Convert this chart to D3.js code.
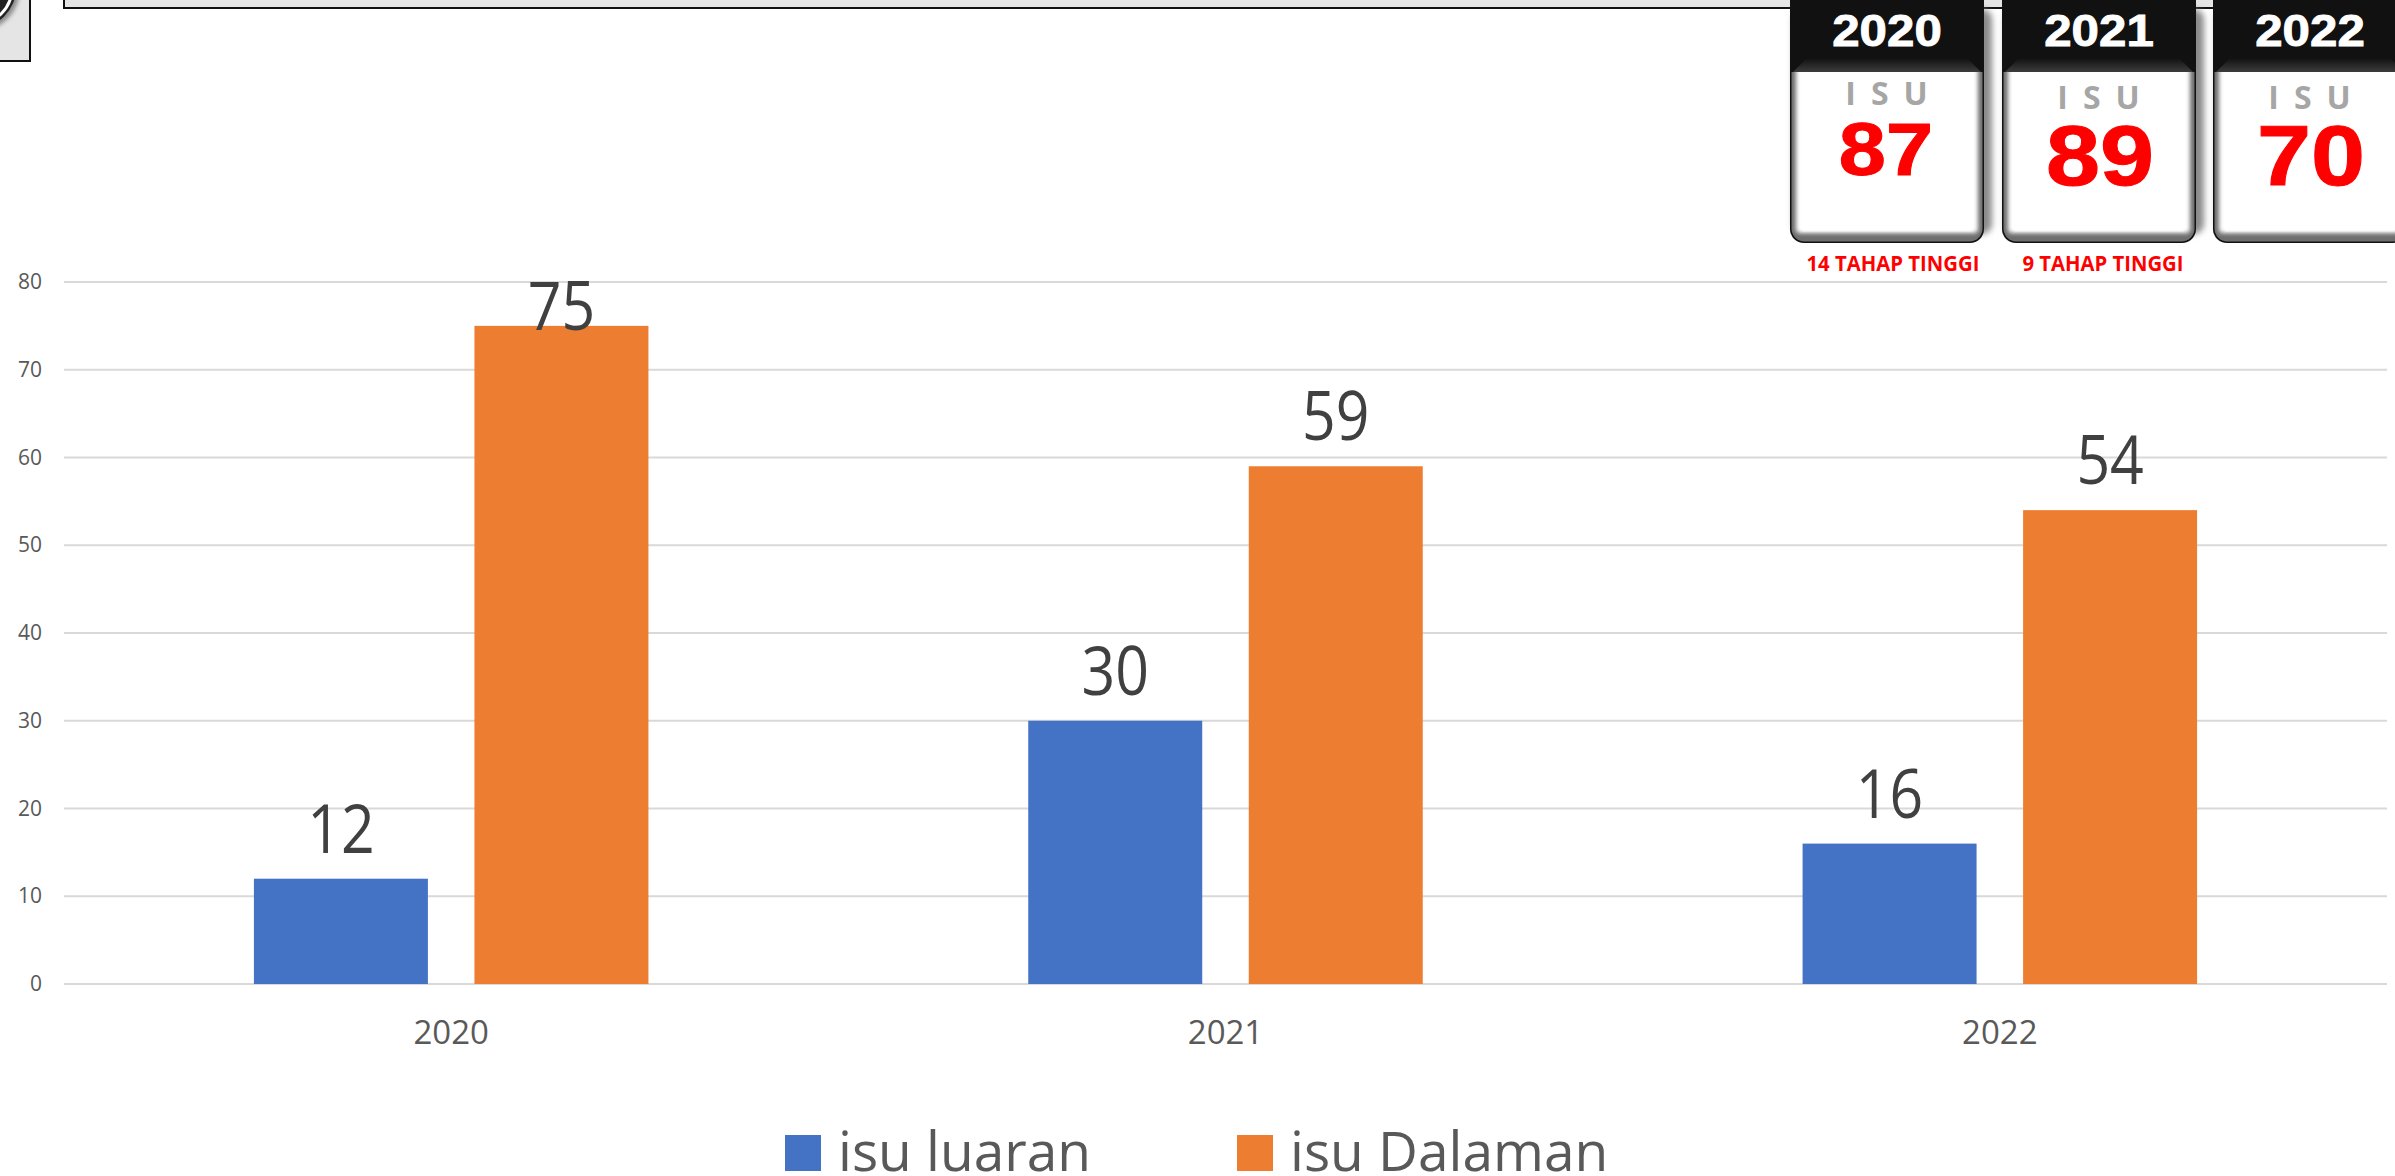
<!DOCTYPE html>
<html><head><meta charset="utf-8">
<script src="https://cdn.jsdelivr.net/npm/d3@7"></script>
<style>
html,body{margin:0;padding:0;background:#fff;overflow:hidden}
svg{display:block}
</style></head><body>
<svg id="c" width="2395" height="1176" font-family="'Open Sans',sans-serif"></svg>
<script>
const categories = ["2020","2021","2022"];
const seriesNames = ["isu luaran","isu Dalaman"];
const isuLuaran = [12,30,16];
const isuDalaman = [75,59,54];
const yTicks = [0,10,20,30,40,50,60,70,80];
const calendarYears = ["2020","2021","2022"];
const calendarTotals = [87,89,70];
const calendarNotes = ["14 TAHAP TINGGI","9 TAHAP TINGGI",""];
const colors = ["#4472C4","#ED7D31"];

const svg = d3.select("#c");
const x0 = d3.scaleBand().domain(categories).range([64,2387]);
const groupW = 394.5;
const x1 = d3.scaleBand().domain(seriesNames).range([0,groupW]).paddingInner(0.211);
const y = d3.scaleLinear().domain([0,80]).range([984,282]);
const seriesVals = [isuLuaran,isuDalaman];

const defs = svg.append("defs");
[["b1",1.2],["b2",2],["b3",3]].forEach(f=>{
  defs.append("filter").attr("id",f[0]).attr("x","-20%").attr("y","-20%").attr("width","140%").attr("height","140%")
    .append("feGaussianBlur").attr("stdDeviation",f[1]);
});
const cw=194, ch=263;
defs.append("clipPath").attr("id","card").append("rect").attr("x",1.5).attr("y",-20).attr("width",cw-3).attr("height",ch-1.5).attr("rx",13);
const hdr = defs.append("linearGradient").attr("id","chamfer").attr("x1",0).attr("x2",0).attr("y1",0).attr("y2",1);
[[0,"#141414"],[1,"#3c3c3c"]].forEach(s=>hdr.append("stop").attr("offset",s[0]).attr("stop-color",s[1]));

// top remnants
svg.append("rect").attr("x",64).attr("y",-20).attr("width",2400).attr("height",28).attr("fill","#e5e5e5").attr("stroke","#111").attr("stroke-width",2);
svg.append("rect").attr("x",-20).attr("y",-20).attr("width",50).attr("height",81).attr("fill","#e5e5e5").attr("stroke","#111").attr("stroke-width",2);
svg.append("circle").attr("cx",-24).attr("cy",-12).attr("r",44).attr("fill","#8a8a8a").attr("filter","url(#b2)");
svg.append("circle").attr("cx",-24).attr("cy",-12).attr("r",40).attr("fill","#222");
svg.append("circle").attr("cx",-24).attr("cy",-12).attr("r",36).attr("fill","none").attr("stroke","#fff").attr("stroke-width",3);

// grid
svg.append("g").selectAll("line").data(yTicks).join("line")
  .attr("x1",64).attr("x2",2387).attr("y1",d=>y(d)).attr("y2",d=>y(d))
  .attr("stroke","#d9d9d9").attr("stroke-width",2);

// axes
const yAxis = d3.axisLeft(y).tickValues(yTicks).tickSize(0).tickPadding(0);
const gy = svg.append("g").attr("transform","translate(42,0)").call(yAxis);
gy.select(".domain").remove();
gy.selectAll("text").attr("font-size",21).attr("fill","#595959").attr("font-family","'Open Sans'");
const xAxis = d3.axisBottom(x0).tickSize(0).tickPadding(0);
const gx = svg.append("g").attr("transform","translate(0,1021)").call(xAxis);
gx.select(".domain").remove();
gx.selectAll("text").attr("font-size",33).attr("fill","#595959").attr("font-family","'Open Sans'").attr("dy","0.71em").attr("y",0);

// bars
const groups = svg.append("g").selectAll("g").data(categories).join("g")
  .attr("transform",c=>`translate(${x0(c)+x0.bandwidth()/2-groupW/2},0)`);
const labelFloor = y(80)+48;
seriesNames.forEach((s,si)=>{
  groups.append("rect").attr("x",x1(s)).attr("width",x1.bandwidth())
    .attr("y",(c,i)=>y(seriesVals[si][i]))
    .attr("height",(c,i)=>y(0)-y(seriesVals[si][i]))
    .attr("fill",colors[si]);
});
seriesNames.forEach((s,si)=>{
  groups.append("text")
    .attr("transform",(c,i)=>`translate(${x1(s)+x1.bandwidth()/2},${Math.max(y(seriesVals[si][i])-26,labelFloor)}) scale(0.88,1)`)
    .attr("text-anchor","middle").attr("font-size",67).attr("fill","#404040")
    .text((c,i)=>seriesVals[si][i]);
});

// legend
const legendX = [785,1237];
const lg = svg.append("g").selectAll("g").data(seriesNames).join("g");
lg.append("rect").attr("x",(d,i)=>legendX[i]).attr("y",1135).attr("width",36).attr("height",36).attr("fill",(d,i)=>colors[i]);
lg.append("text").attr("x",(d,i)=>legendX[i]+53).attr("y",1171).attr("font-size",55).attr("fill","#595959").text(d=>d);

// calendars
const cal = svg.append("g").selectAll("g").data(calendarYears).join("g")
  .attr("transform",(d,i)=>`translate(${[1790,2002,2213][i]},0)`);
cal.append("rect").attr("x",3).attr("y",9).attr("width",cw+5).attr("height",ch-38).attr("rx",10).attr("fill","#8a8a8a").attr("filter","url(#b3)");
cal.append("rect").attr("x",0).attr("y",-20).attr("width",cw).attr("height",ch).attr("rx",14).attr("fill","#111");
const inner = cal.append("g").attr("clip-path","url(#card)");
inner.append("rect").attr("x",0).attr("y",60).attr("width",cw).attr("height",182).attr("fill","#6e6e6e");
inner.append("rect").attr("x",6).attr("y",62).attr("width",cw-12).attr("height",171).attr("rx",4).attr("fill","#fff").attr("filter","url(#b2)");
inner.append("rect").attr("x",12).attr("y",60).attr("width",cw-24).attr("height",171).attr("fill","#fff").attr("filter","url(#b1)");
cal.append("rect").attr("x",1).attr("y",9).attr("width",cw-2).attr("height",63).attr("fill","#111");
cal.append("path").attr("d",`M3,72L16,59L${cw-16},59L${cw-3},72Z`).attr("fill","url(#chamfer)");
cal.append("text").attr("transform",`translate(${cw/2},46) scale(1.12,1)`).attr("text-anchor","middle")
  .attr("font-family","'Liberation Sans'").attr("font-weight",700).attr("font-size",44).attr("fill","#fff").attr("stroke","#fff").attr("stroke-width",0.9).text(d=>d);
cal.append("text").attr("x",cw/2+7).attr("y",(d,i)=>i==0?105:109).attr("text-anchor","middle")
  .attr("font-weight",700).attr("font-size",32).attr("letter-spacing",15).attr("fill","#a6a6a6").text("ISU");
cal.append("text").attr("transform",(d,i)=>`translate(${cw/2-(i==0?1:-1)},${i==0?175:185}) scale(1.13,1)`).attr("text-anchor","middle")
  .attr("font-family","'Liberation Sans'").attr("font-weight",700).attr("font-size",(d,i)=>i==0?75:86).attr("fill","#f00").attr("stroke","#f00").attr("stroke-width",1).text((d,i)=>calendarTotals[i]);
cal.filter((d,i)=>calendarNotes[i]).append("text").attr("x",(d,i)=>[103,101][i]).attr("y",271).attr("text-anchor","middle").attr("textLength",(d,i)=>[173,161][i]).attr("lengthAdjust","spacingAndGlyphs")
  .attr("font-weight",700).attr("font-size",21).attr("fill","#f00").text((d,i)=>calendarNotes[i]);
</script>
</body></html>
